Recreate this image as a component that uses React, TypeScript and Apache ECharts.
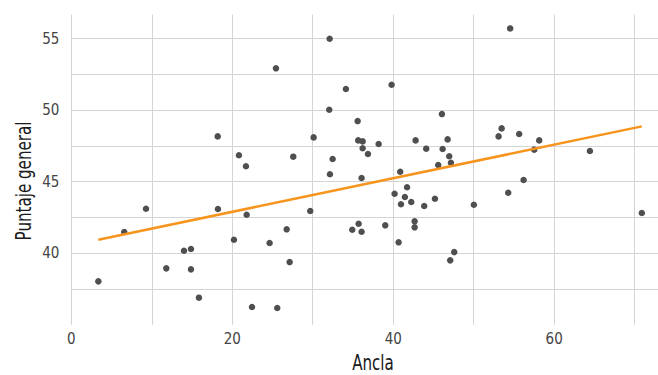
import React, { useEffect, useRef } from "react";
import * as echarts from "echarts";

const anclaValues = [
  3.36, 6.58, 9.28, 11.8, 14.0, 14.87, 14.87, 15.86, 18.19, 18.22, 20.21, 20.83,
  21.7, 21.79, 22.45, 24.64, 25.43, 25.59, 26.76, 27.13, 27.58, 29.69, 30.11, 32.1,
  32.05, 32.14, 32.47, 34.12, 34.91, 35.58, 35.65, 35.7, 36.07, 36.07, 36.2, 36.2,
  36.86, 38.19, 39.01, 39.8, 40.17, 40.67, 40.87, 40.96, 41.45, 41.72, 42.24, 42.66,
  42.66, 42.78, 43.85, 44.1, 45.18, 45.59, 46.05, 46.14, 46.76, 46.96, 47.08, 47.17,
  47.58, 50.02, 53.09, 53.47, 54.29, 54.53, 55.65, 56.2, 57.52, 58.14, 64.44, 70.89,
];
const puntajeValues = [
  38.03, 41.48, 43.11, 38.94, 40.17, 40.29, 38.87, 36.89, 48.17, 43.09, 40.94, 46.85,
  46.08, 42.69, 36.24, 40.71, 52.93, 36.17, 41.67, 39.38, 46.75, 42.95, 48.1, 55.0,
  50.03, 45.52, 46.59, 51.48, 41.64, 49.24, 47.89, 42.06, 45.26, 41.5, 47.82, 47.34,
  46.94, 47.64, 41.95, 51.78, 44.16, 40.76, 45.7, 43.42, 43.93, 44.61, 43.58, 42.23,
  41.81, 47.89, 43.3, 47.31, 43.81, 46.17, 49.73, 47.29, 47.96, 46.78, 39.5, 46.33,
  40.08, 43.39, 48.17, 48.73, 44.23, 55.72, 48.34, 45.12, 47.24, 47.89, 47.15, 42.81,
];
const fitX = [3.36, 70.89];
const fitY = [40.94, 48.87];
const xTickLabels = [0, 20, 40, 60];
const yTickLabels = [40, 45, 50, 55];

const FONT = "'Liberation Sans Narrow', 'DejaVu Sans Condensed', 'Roboto', sans-serif";

export default function App() {
  const ref = useRef<HTMLDivElement>(null);
  useEffect(() => {
    if (!ref.current) return;
    const chart = echarts.init(ref.current, null, { renderer: "svg" });
    const points = anclaValues.map((x, i) => [x, puntajeValues[i]]);
    const fit = fitX.map((x, i) => [x, fitY[i]]);
    const gridColor = "#d4d4d4";
    chart.setOption({
      animation: false,
      backgroundColor: "#ffffff",
      grid: { left: 71.3, right: 0, top: 14.7, bottom: 50.3, containLabel: false },
      xAxis: {
        type: "value",
        min: 0,
        max: 72.9,
        interval: 10,
        axisLine: { show: false },
        axisTick: { show: false },
        splitLine: { show: true, showMaxLine: false, lineStyle: { color: gridColor, width: 1 } },
        axisLabel: {
          margin: 7,
          fontFamily: FONT,
          fontSize: 15,
          color: "#444444",
          showMaxLabel: false,
          formatter: (v: number) => (xTickLabels.includes(v) ? String(v) : ""),
        },
      },
      yAxis: {
        type: "value",
        min: 35,
        max: 56.68,
        interval: 2.5,
        axisLine: { show: false },
        axisTick: { show: false },
        splitLine: {
          show: true,
          showMinLine: false,
          showMaxLine: false,
          lineStyle: { color: gridColor, width: 1 },
        },
        axisLabel: {
          margin: 12,
          fontFamily: FONT,
          fontSize: 15,
          color: "#444444",
          showMaxLabel: false,
          showMinLabel: false,
          formatter: (v: number) => (yTickLabels.includes(v) ? String(v) : ""),
        },
      },
      graphic: [
        {
          type: "text",
          x: 373,
          y: 362,
          scaleX: 0.8,
          style: {
            text: "Ancla",
            fontFamily: FONT,
            fontSize: 21,
            fill: "#1a1a1a",
            textAlign: "center",
            textVerticalAlign: "middle",
          },
        },
        {
          type: "text",
          x: 23,
          y: 181,
          rotation: Math.PI / 2,
          scaleX: 0.8,
          style: {
            text: "Puntaje general",
            fontFamily: FONT,
            fontSize: 21,
            fill: "#1a1a1a",
            textAlign: "center",
            textVerticalAlign: "middle",
          },
        },
      ],
      series: [
        {
          type: "scatter",
          data: points,
          symbol: "circle",
          symbolSize: 6.5,
          itemStyle: { color: "#4f4f4f", opacity: 1 },
          z: 2,
        },
        {
          type: "line",
          data: fit,
          showSymbol: false,
          symbol: "none",
          lineStyle: { color: "#f7941d", width: 2.5 },
          z: 3,
        },
      ],
    });
    return () => chart.dispose();
  }, []);
  return (
    <div
      ref={ref}
      style={{ position: "fixed", left: 0, top: 0, width: 658, height: 375 }}
    />
  );
}
